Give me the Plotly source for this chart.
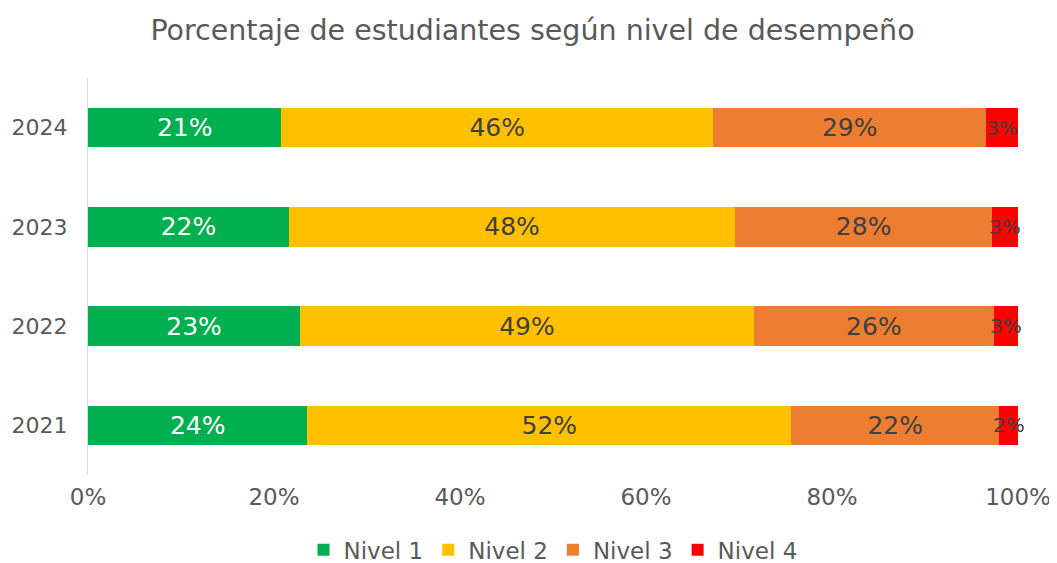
import plotly.graph_objects as go

years = ["2021", "2022", "2023", "2024"]
nivel1 = [23.6, 22.8, 21.6, 20.8]
nivel2 = [52.0, 48.8, 48.0, 46.4]
nivel3 = [22.4, 25.8, 27.6, 29.4]
nivel4 = [2.0, 2.6, 2.8, 3.4]
series_names = ["Nivel 1", "Nivel 2", "Nivel 3", "Nivel 4"]
colors = ["#00B050", "#FFC000", "#ED7D31", "#FF0000"]
text_colors = ["#FFFFFF", "#404040", "#404040", "#404040"]
tick_vals = [0, 20, 40, 60, 80, 100]
tick_text = ["0%", "20%", "40%", "60%", "80%", "100%"]

FONT = "DejaVu Sans"
GRAY = "#595959"
series = [nivel1, nivel2, nivel3, nivel4]
fig = go.Figure()
for i, (name, vals, col, tcol) in enumerate(zip(series_names, series, colors, text_colors)):
    last = i == len(series) - 1
    fig.add_trace(go.Bar(
        y=years, x=vals, name=name, orientation="h",
        marker=dict(color=col, line=dict(width=0)),
        text=[f"{round(v):d}%" for v in vals],
        textposition="none" if last else "inside",
        insidetextanchor="middle", textangle=0,
        textfont=dict(color=tcol, size=25, family=FONT),
    ))

# labels for the thin last segment, centred on it (computed from the data;
# y given as the category index so numeric-looking names are not misread)
for k in range(len(years)):
    start = nivel1[k] + nivel2[k] + nivel3[k]
    fig.add_annotation(x=start + nivel4[k] / 2, y=k, text=f"{round(nivel4[k]):d}%",
                       showarrow=False, xanchor="center", yanchor="middle",
                       font=dict(color=text_colors[3], size=20, family=FONT))

fig.update_layout(
    barmode="stack", bargap=0.6,
    width=1049, height=555,
    paper_bgcolor="white", plot_bgcolor="white",
    margin=dict(l=80, r=39, t=70, b=88, autoexpand=False),
    title=dict(text="Porcentaje de estudiantes según nivel de desempeño",
               x=0.5, xanchor="center", y=0.96, yanchor="middle",
               font=dict(size=28.5, color=GRAY, family=FONT)),
    legend=dict(orientation="h", x=0.5, xanchor="center",
                yref="container", y=0.024, yanchor="middle",
                font=dict(size=23, color=GRAY, family=FONT),
                traceorder="normal", itemwidth=30),
    xaxis=dict(range=[0, 100], tickvals=tick_vals, ticktext=tick_text,
               showgrid=False, zeroline=False, showline=False,
               tickfont=dict(size=23, color=GRAY, family=FONT),
               ticks="", ticklabelstandoff=6, automargin=False, fixedrange=True),
    yaxis=dict(type="category", categoryorder="array", categoryarray=years,
               range=[-0.5, len(years) - 0.5],
               showline=True, linecolor="#D9D9D9", linewidth=1, ticks="",
               tickfont=dict(size=22, color=GRAY, family=FONT),
               ticklabelstandoff=15, automargin=False, showgrid=False),
)
fig.write_html("out.html")
